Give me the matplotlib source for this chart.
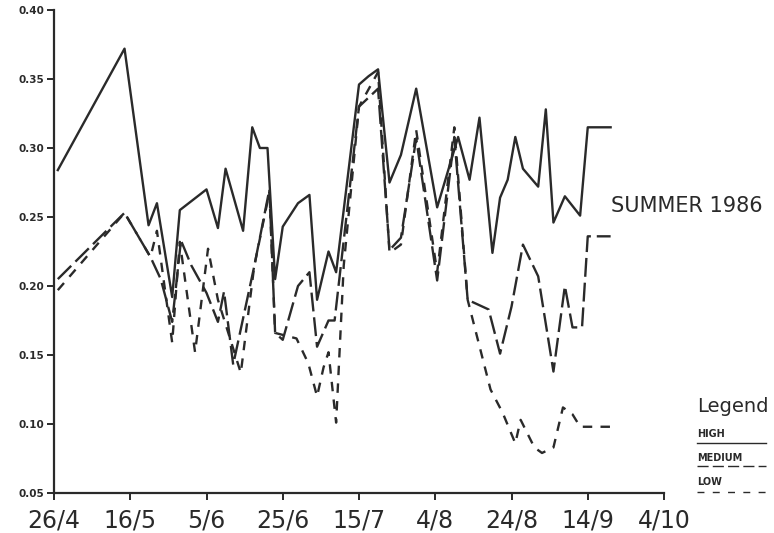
import matplotlib
matplotlib.use("Agg")
import matplotlib.pyplot as plt
from matplotlib.lines import Line2D

# days after 26/4
tick_days = [0, 20, 40, 60, 80, 100, 120, 140, 160]
tick_labels = ["26/4", "16/5", "5/6", "25/6", "15/7", "4/8", "24/8", "14/9", "4/10"]
y_ticks = [0.05, 0.10, 0.15, 0.20, 0.25, 0.30, 0.35, 0.40]

high_days = [1, 18.5, 24.8, 27, 31, 33, 40, 43, 45, 49.6, 52, 54, 56, 58, 60, 64, 67, 69, 72, 74,
             80, 82.5, 85, 88, 91, 95, 100.5, 106, 109, 111.6, 115, 117, 119, 121, 123, 127, 129,
             131, 134, 138, 140, 146]
high_vals = [0.284, 0.372, 0.244, 0.26, 0.192, 0.255, 0.27, 0.242, 0.285, 0.24, 0.315, 0.30, 0.30,
             0.205, 0.243, 0.26, 0.266, 0.19, 0.225, 0.21, 0.346, 0.352, 0.357, 0.275, 0.295, 0.343,
             0.257, 0.308, 0.277, 0.322, 0.224, 0.264, 0.277, 0.308, 0.285, 0.272, 0.328, 0.246,
             0.265, 0.251, 0.315, 0.315]

medium_days = [1, 18.5, 25.3, 28, 31, 33.3, 36, 40, 43, 44.6, 47, 52.5, 56.5, 58, 60, 64, 67, 69,
               72, 73.6, 80, 85, 88, 91, 95, 100.5, 105, 108.5, 114, 117, 120, 123, 127, 131, 134,
               136, 138.5, 140, 146]
medium_vals = [0.205, 0.253, 0.221, 0.205, 0.174, 0.233, 0.215, 0.195, 0.174, 0.196, 0.143, 0.214,
               0.27, 0.166, 0.161, 0.20, 0.21, 0.156, 0.175, 0.175, 0.33, 0.343, 0.226, 0.235,
               0.307, 0.204, 0.308, 0.19, 0.183, 0.151, 0.185, 0.23, 0.207, 0.138, 0.20, 0.17,
               0.17, 0.236, 0.236]

low_days = [1, 18.5, 25.3, 27, 31, 33, 37, 40.4, 43, 49, 52.5, 56.5, 58, 63.6, 66.7, 69, 70.7, 72,
            74, 76, 80, 85, 88, 91, 95, 100.5, 105, 108.5, 114.5, 117.7, 121, 122.4, 126, 128, 131,
            133.5, 136, 138, 146]
low_vals = [0.197, 0.253, 0.221, 0.24, 0.159, 0.232, 0.152, 0.227, 0.19, 0.137, 0.214, 0.268,
            0.166, 0.162, 0.144, 0.12, 0.141, 0.152, 0.101, 0.215, 0.33, 0.355, 0.224, 0.23, 0.313,
            0.21, 0.315, 0.19, 0.125, 0.108, 0.086, 0.103, 0.083, 0.079, 0.083, 0.112, 0.107,
            0.098, 0.098]

INK = "#2a2a2a"
fig = plt.figure(figsize=(7.74, 5.33), dpi=100)
ax = fig.add_axes([54 / 774, 40 / 533, (664 - 54) / 774, (493 - 10) / 533])

ax.plot(low_days, low_vals, color=INK, lw=1.7, dashes=(4, 3.5))
ax.plot(medium_days, medium_vals, color=INK, lw=1.7, dashes=(8, 2.5))
ax.plot(high_days, high_vals, color=INK, lw=1.7)

ax.set_xlim(0, 160)
ax.set_ylim(0.05, 0.40)
ax.set_xticks(tick_days)
ax.set_xticklabels(tick_labels, fontsize=17, color=INK)
ax.set_yticks(y_ticks)
ax.set_yticklabels([f"{v:.2f}" for v in y_ticks], fontsize=7.5, fontweight="bold", color=INK)
for s in ["top", "right"]:
    ax.spines[s].set_visible(False)
for s in ["left", "bottom"]:
    ax.spines[s].set_linewidth(1.6)
    ax.spines[s].set_color(INK)
ax.tick_params(axis="both", direction="out", length=5, width=1.4, color=INK)
ax.tick_params(axis="x", pad=6)
ax.tick_params(axis="y", pad=2)

fig.text(611 / 774, 1 - 206 / 533, "SUMMER 1986", fontsize=15, color=INK, va="center", ha="left")

fig.text(697 / 774, 1 - 407 / 533, "Legend", fontsize=14, color=INK, va="center", ha="left")
entries = [("HIGH", 434, 443, "-", None), ("MEDIUM", 458, 466, "--", (8, 3)),
           ("LOW", 482, 492, "--", (5, 6))]
for name, yp, yl, ls, d in entries:
    fig.text(697 / 774, 1 - yp / 533, name, fontsize=7, fontweight="bold", color=INK,
             va="center", ha="left")
    ln = Line2D([697 / 774, 766 / 774], [1 - yl / 533] * 2, transform=fig.transFigure,
                color=INK, lw=1.0, linestyle=ls)
    if d is not None:
        ln.set_dashes(d)
    fig.add_artist(ln)

fig.savefig("out.png", dpi=100)
